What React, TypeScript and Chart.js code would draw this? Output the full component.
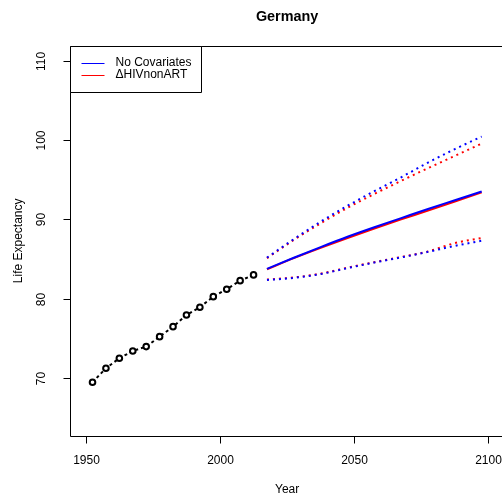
import React, { useEffect, useRef } from "react";
import { Chart, registerables } from "chart.js";

Chart.register(...registerables);

const chartTitle = "Germany";
const xTitle = "Year";
const yTitle = "Life Expectancy";
const xTicks = [1950, 2000, 2050, 2100];
const yTicks = [70, 80, 90, 100, 110];
const legendLabels = ["No Covariates", "\u0394HIVnonART"];

const obsYears = [1952.5, 1957.5, 1962.5, 1967.5, 1972.5, 1977.5, 1982.5, 1987.5, 1992.5, 1997.5, 2002.5, 2007.5, 2012.5];
const obsLE = [69.46, 71.22, 72.48, 73.4, 73.95, 75.21, 76.47, 77.94, 78.92, 80.25, 81.19, 82.27, 82.99];

const projYears = [2017.5, 2027.5, 2037.5, 2047.5, 2057.5, 2067.5, 2077.5, 2087.5, 2097.5];
const noCovMedian = [83.75, 85.15, 86.5, 87.8, 89.0, 90.15, 91.3, 92.4, 93.5];
const noCovUpper = [85.17, 87.5, 89.7, 91.7, 93.55, 95.3, 97.15, 98.85, 100.43];
const noCovLower = [82.35, 82.62, 83.1, 83.85, 84.55, 85.2, 85.9, 86.65, 87.3];
const hivMedian = [83.7, 85.1, 86.4, 87.65, 88.85, 90.0, 91.1, 92.25, 93.4];
const hivUpper = [85.1, 87.4, 89.5, 91.45, 93.2, 94.85, 96.45, 98.0, 99.55];
const hivLower = [82.4, 82.67, 83.15, 83.9, 84.6, 85.25, 85.95, 87.0, 87.65];

const FONT = "'Liberation Sans', Arial, Helvetica, sans-serif";
const BLUE = "#0000FF";
const RED = "#FF0000";

const pts = (xs: number[], ys: number[]) => xs.map((x, i) => ({ x, y: ys[i] }));

const axesPlugin = {
  id: "rAxes",
  afterDraw(chart: any) {
    const { ctx, chartArea: a, scales } = chart;
    const xs = scales.x;
    const ys = scales.y;
    ctx.save();
    ctx.strokeStyle = "#000";
    ctx.fillStyle = "#000";
    ctx.lineWidth = 1;
    const L = Math.round(a.left) + 0.5;
    const T = Math.round(a.top) + 0.5;
    const R = Math.round(a.right) + 0.5;
    const B = Math.round(a.bottom) + 0.5;
    ctx.beginPath();
    ctx.rect(L, T, R - L, B - T);
    ctx.stroke();

    ctx.font = `12px ${FONT}`;
    ctx.textAlign = "center";
    ctx.textBaseline = "middle";
    xTicks.forEach((v) => {
      const px = Math.round(xs.getPixelForValue(v)) + 0.5;
      ctx.beginPath();
      ctx.moveTo(px, B);
      ctx.lineTo(px, B + 7);
      ctx.stroke();
      ctx.fillText(String(v), px, B + 24);
    });
    yTicks.forEach((v) => {
      const py = Math.round(ys.getPixelForValue(v)) + 0.5;
      ctx.beginPath();
      ctx.moveTo(L, py);
      ctx.lineTo(L - 7, py);
      ctx.stroke();
      ctx.save();
      ctx.translate(L - 29, py);
      ctx.rotate(-Math.PI / 2);
      ctx.fillText(String(v), 0, 0);
      ctx.restore();
    });

    ctx.fillText(xTitle, (a.left + a.right) / 2, B + 53);
    ctx.save();
    ctx.translate(L - 52, (a.top + a.bottom) / 2);
    ctx.rotate(-Math.PI / 2);
    ctx.fillText(yTitle, 0, 0);
    ctx.restore();

    ctx.font = `bold 14.4px ${FONT}`;
    ctx.fillText(chartTitle, (a.left + a.right) / 2, 17);

    // legend
    const lw = 131;
    const lh = 46;
    ctx.fillStyle = "#fff";
    ctx.fillRect(L, T, lw, lh);
    ctx.strokeStyle = "#000";
    ctx.beginPath();
    ctx.rect(L, T, lw, lh);
    ctx.stroke();
    const colors = [BLUE, RED];
    ctx.font = `12px ${FONT}`;
    ctx.textAlign = "left";
    legendLabels.forEach((lab, i) => {
      const y = T + 16 + i * 12.3;
      ctx.strokeStyle = colors[i];
      ctx.beginPath();
      ctx.moveTo(L + 11, Math.round(y) + 0.5);
      ctx.lineTo(L + 34, Math.round(y) + 0.5);
      ctx.stroke();
      ctx.fillStyle = "#000";
      ctx.fillText(lab, L + 45, y);
    });
    ctx.restore();
  },
};

export default function App() {
  const ref = useRef<HTMLCanvasElement | null>(null);
  useEffect(() => {
    if (!ref.current) return;
    const dotted = [2, 4];
    const proj = { borderWidth: 2, pointRadius: 0, cubicInterpolationMode: "monotone" as const };
    const chart = new Chart(ref.current, {
      type: "line",
      data: {
        datasets: [
          { label: "nc median", data: pts(projYears, noCovMedian), borderColor: BLUE, ...proj },
          { label: "nc upper", data: pts(projYears, noCovUpper), borderColor: BLUE, borderDash: dotted, ...proj },
          { label: "nc lower", data: pts(projYears, noCovLower), borderColor: BLUE, borderDash: dotted, ...proj },
          { label: "hiv median", data: pts(projYears, hivMedian), borderColor: RED, ...proj },
          { label: "hiv upper", data: pts(projYears, hivUpper), borderColor: RED, borderDash: dotted, ...proj },
          { label: "hiv lower", data: pts(projYears, hivLower), borderColor: RED, borderDash: dotted, ...proj },
          {
            label: "observed",
            data: pts(obsYears, obsLE),
            borderColor: "#000",
            borderWidth: 2,
            borderDash: [3, 3],
            pointRadius: 2.8,
            pointBorderWidth: 2,
            pointBorderColor: "#000",
            pointBackgroundColor: "#fff",
          },
        ],
      },
      options: {
        responsive: false,
        animation: false,
        devicePixelRatio: 1,
        layout: { padding: { left: 69.7, top: 46, right: 15.5, bottom: 62.3 } },
        plugins: { legend: { display: false }, tooltip: { enabled: false }, title: { display: false } },
        scales: {
          x: { type: "linear", min: 1944, max: 2106, display: false },
          y: { type: "linear", min: 62.72, max: 111.85, display: false },
        },
        elements: { line: { tension: 0 } },
      },
      plugins: [axesPlugin],
    });
    return () => chart.destroy();
  }, []);
  return (
    <div style={{ position: "fixed", left: 0, top: 0, width: 502, height: 498, overflow: "hidden", background: "#fff" }}>
      <canvas ref={ref} width={520} height={498} style={{ display: "block", width: 520, height: 498 }} />
    </div>
  );
}
